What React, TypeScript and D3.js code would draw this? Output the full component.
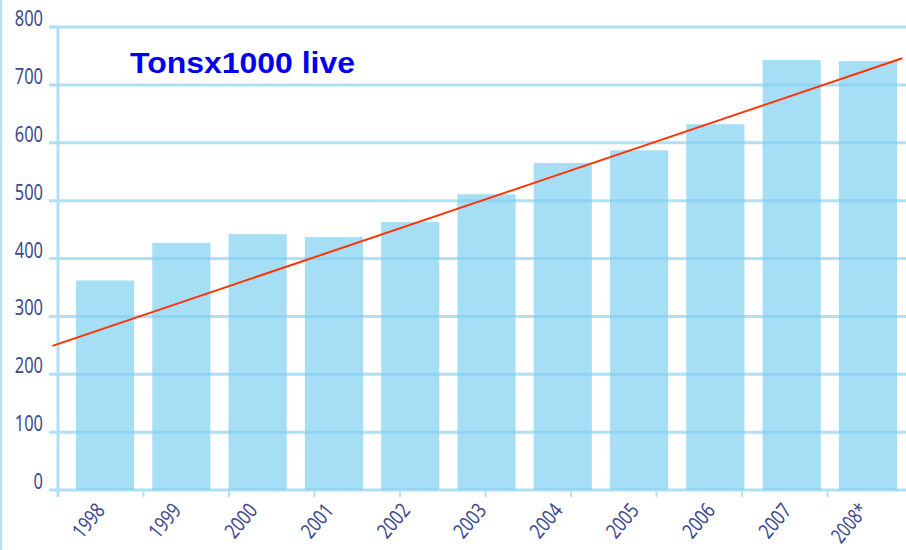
import React from "react";
import * as d3 from "d3";

const categories = ["1998", "1999", "2000", "2001", "2002", "2003", "2004", "2005", "2006", "2007", "2008*"];
const values = [362, 427, 442, 437, 463, 511, 565, 587, 632, 743, 741];
const yTicks = [0, 100, 200, 300, 400, 500, 600, 700, 800];
const trendIndex = [-0.69, 10.45];
const trendValues = [249, 746];
const xTickIndex = [0, 1, 2, 3, 4, 5, 6, 7, 8, 9];
const title = "Tonsx1000 live";

const W = 906;
const H = 550;

export default function App() {
  const y = d3.scaleLinear().domain([0, 800]).range([490, 27]);
  const x = d3.scaleBand<string>().domain(categories).range([76, 897]).paddingInner(0.238).paddingOuter(0);
  const bw = x.bandwidth();
  const first = (x(categories[0]) as number) + bw / 2;
  const last = (x(categories[categories.length - 1]) as number) + bw / 2;
  const idx = d3.scaleLinear().domain([0, categories.length - 1]).range([first, last]);
  const tickX = d3.scaleLinear().domain([0, 10]).range([58, 913]);
  const line = d3
    .line<number>()
    .x((_, i) => idx(trendIndex[i]))
    .y((d) => y(d));

  const gridColor = "rgb(131,206,239)";
  const labelColor = "#3e4a8c";
  const labelFont = "'Noto Sans', 'Open Sans', sans-serif";

  return (
    <svg
      width={W}
      height={H}
      style={{ position: "absolute", left: 0, top: 0, background: "#fff" }}
    >
      <rect x={0} y={0} width={W} height={H} fill="#fff" />
      <line x1={1} x2={1} y1={0} y2={H} stroke="#9fd6ee" strokeWidth={1.5} />

      {/* bars */}
      {categories.map((c, i) => (
        <rect
          key={c}
          x={x(c)}
          y={y(values[i])}
          width={bw}
          height={y(0) - y(values[i])}
          fill="#a6def6"
        />
      ))}

      {/* gridlines */}
      {yTicks.map((t) => (
        <line
          key={t}
          x1={49}
          x2={W}
          y1={y(t)}
          y2={y(t)}
          stroke={gridColor}
          strokeOpacity={0.64}
          strokeWidth={3}
        />
      ))}

      {/* y axis */}
      <line x1={58} x2={58} y1={y(800) - 1} y2={y(0) + 7} stroke="#b0e0f5" strokeWidth={3} />

      {/* x ticks */}
      {xTickIndex.map((i) => (
        <line
          key={i}
          x1={tickX(i)}
          x2={tickX(i)}
          y1={y(0)}
          y2={y(0) + 7}
          stroke="#b0e0f5"
          strokeWidth={2}
        />
      ))}

      {/* y labels */}
      {yTicks.map((t) => {
        const s = String(t);
        return (
          <text
            key={t}
            x={43}
            y={y(t) - 1}
            textAnchor="end"
            fontFamily={labelFont}
            fontSize={21}
            fill={labelColor}
            textLength={s.length * 9.4}
            lengthAdjust="spacingAndGlyphs"
          >
            {s}
          </text>
        );
      })}

      {/* x labels */}
      {categories.map((c) => {
        const cx = (x(c) as number) + bw / 2 + 1;
        const cy = 511;
        const len = c.replace("*", "").length * 9.4 + (c.includes("*") ? 6 : 0);
        return (
          <text
            key={c}
            x={cx}
            y={cy}
            transform={`rotate(-50 ${cx} ${cy})`}
            textAnchor="end"
            fontFamily={labelFont}
            fontSize={21}
            fill={labelColor}
            textLength={len}
            lengthAdjust="spacingAndGlyphs"
          >
            {c}
          </text>
        );
      })}

      {/* trend line */}
      <path d={line(trendValues) || ""} fill="none" stroke="#ff3300" strokeWidth={2} />

      {/* title */}
      <text
        x={130}
        y={73}
        fontFamily="'Liberation Sans', Arial, sans-serif"
        fontWeight="bold"
        fontSize={30}
        fill="#0000ee"
        textLength={225}
        lengthAdjust="spacingAndGlyphs"
      >
        {title}
      </text>
    </svg>
  );
}
